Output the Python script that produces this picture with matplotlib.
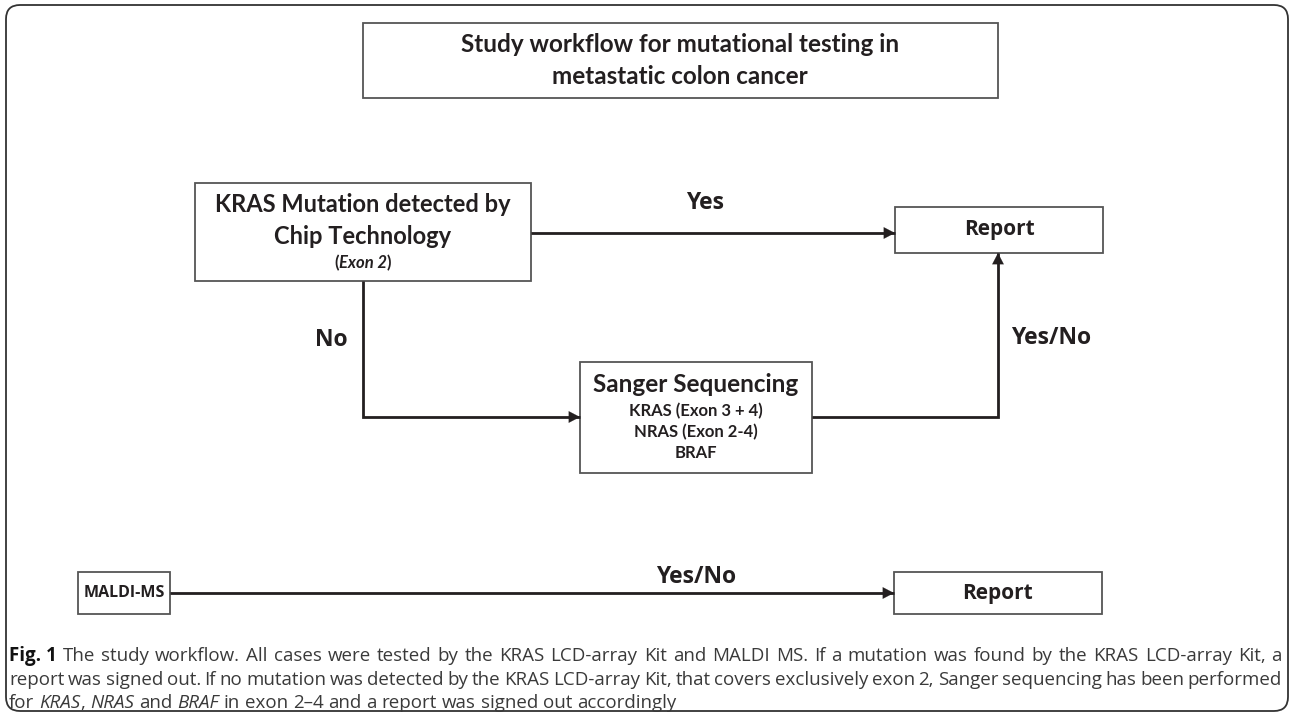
import re
import matplotlib
matplotlib.use("Agg")
import matplotlib.pyplot as plt
from matplotlib.patches import Rectangle, FancyBboxPatch, FancyArrowPatch

# ---- content ----
title_lines = ["Study workflow for mutational testing in", "metastatic colon cancer"]
kras_lines = ["KRAS Mutation detected by", "Chip Technology"]
kras_sub = ["(", "Exon 2", ")"]
sanger_title = "Sanger Sequencing"
sanger_lines = ["KRAS (Exon 3 + 4)", "NRAS (Exon 2-4)", "BRAF"]
report_label = "Report"
maldi_label = "MALDI-MS"
edge_labels = ["Yes", "No", "Yes/No", "Yes/No"]
caption_lines = [
    "**Fig. 1** The study workflow. All cases were tested by the KRAS LCD-array Kit and MALDI MS. If a mutation was found by the KRAS LCD-array Kit, a",
    "report was signed out. If no mutation was detected by the KRAS LCD-array Kit, that covers exclusively exon 2, Sanger sequencing has been performed",
    "for *KRAS*, *NRAS* and *BRAF* in exon 2\u20134 and a report was signed out accordingly",
]

W, H = 1290, 713
fig = plt.figure(figsize=(W / 100, H / 100), dpi=100)
ax = fig.add_axes([0, 0, 1, 1])
ax.set_xlim(0, W)
ax.set_ylim(H, 0)
ax.axis("off")
r = fig.canvas.get_renderer()

BOX_EC = "#555555"
LINE_C = "#231f20"
TXT = "#231f20"
BOXF = "Lato"
LABF = "Open Sans"


def box(x0, y0, x1, y1):
    ax.add_patch(Rectangle((x0, y0), x1 - x0, y1 - y0, fill=False, ec=BOX_EC, lw=1.3))


def arrow(pts):
    xs = [p[0] for p in pts]
    ys = [p[1] for p in pts]
    ax.plot(xs, ys, color=LINE_C, lw=2.0, solid_capstyle="butt", solid_joinstyle="miter")
    a = FancyArrowPatch(pts[-2], pts[-1], arrowstyle="-|>,head_length=5,head_width=2.6",
                        color=LINE_C, lw=0.1, shrinkA=0, shrinkB=0, mutation_scale=1.6)
    ax.add_patch(a)


# outer frame
ax.add_patch(FancyBboxPatch((14, 13), 1266, 690, boxstyle="round,pad=8,rounding_size=14",
                            fill=False, ec="#333333", lw=1.3))

# title box
box(363, 23, 998, 98)
ax.text(680, 45, title_lines[0], ha="center", va="center", fontsize=17.5, fontweight="bold",
        family=BOXF, color=TXT)
ax.text(680, 77, title_lines[1], ha="center", va="center", fontsize=17.5, fontweight="bold",
        family=BOXF, color=TXT)

# KRAS box
box(195, 183, 531, 281)
ax.text(363, 205, kras_lines[0], ha="center", va="center", fontsize=17, fontweight="bold",
        family=BOXF, color=TXT)
ax.text(363, 236, kras_lines[1], ha="center", va="center", fontsize=17, fontweight="bold",
        family=BOXF, color=TXT)
segs = []
for i, s in enumerate(kras_sub):
    t = ax.text(0, 263, s, ha="left", va="center", fontsize=12, fontweight="bold",
                style="italic" if i == 1 else "normal", family=BOXF, color=TXT)
    segs.append(t)
ws = [t.get_window_extent(r).width for t in segs]
x = 363 - sum(ws) / 2
for t, w in zip(segs, ws):
    t.set_x(x)
    x += w

# Report 1
box(895, 207, 1103, 253)
ax.text(999, 230, report_label, ha="center", va="center", fontsize=15, fontweight="bold",
        family=LABF, color=TXT)

# Sanger box
box(580, 362, 812, 473)
ax.text(696, 385, sanger_title, ha="center", va="center", fontsize=17.5, fontweight="bold",
        family=BOXF, color=TXT)
for i, s in enumerate(sanger_lines):
    ax.text(696, 411 + i * 21, s, ha="center", va="center", fontsize=12, fontweight="bold",
            family=BOXF, color=TXT)

# MALDI box and Report 2
box(78, 572, 170, 614)
ax.text(124, 593, maldi_label, ha="center", va="center", fontsize=11.5, fontweight="bold",
        family=LABF, color=TXT)
box(894, 572, 1102, 614)
ax.text(998, 593, report_label, ha="center", va="center", fontsize=15, fontweight="bold",
        family=LABF, color=TXT)

# connectors
arrow([(531, 233), (895, 233)])
arrow([(363, 281), (363, 417), (580, 417)])
arrow([(812, 417), (998, 417), (998, 253)])
arrow([(170, 593), (894, 593)])

lab_kw = dict(ha="center", va="center", fontsize=16.5, fontweight="bold", family=LABF, color=TXT)
ax.text(705, 203, edge_labels[0], **lab_kw)
ax.text(331, 340, edge_labels[1], **lab_kw)
ax.text(1051, 338, edge_labels[2], **lab_kw)
ax.text(696, 577, edge_labels[3], **lab_kw)

# caption (justified)
cap_y = [656, 680, 703]
x_left, x_right = 9, 1282


def parse_token(tok):
    parts = re.split(r"(\*\*[^*]+\*\*|\*[^*]+\*)", tok)
    out = []
    for p in parts:
        if not p:
            continue
        if p.startswith("**"):
            out.append((p[2:-2], "bold"))
        elif p.startswith("*"):
            out.append((p[1:-1], "italic"))
        else:
            out.append((p, "normal"))
    return out


def seg_kw(st, fs):
    kw = dict(fontsize=fs, family=LABF, va="baseline", ha="left")
    if st == "bold":
        kw.update(fontweight="bold", color="#111111")
    elif st == "italic":
        kw.update(style="italic", color="#3a3a3a")
    else:
        kw.update(color="#3a3a3a")
    return kw


def natural_width(line, fs):
    tot = 0
    for txt, st in parse_token(line.replace("**Fig. 1**", "**Fig.\u00a01**")):
        t = ax.text(0, 0, txt.replace("\u00a0", " "), **seg_kw(st, fs))
        tot += t.get_window_extent(r).width
        t.remove()
    return tot


fs0 = 10
nw = max(natural_width(caption_lines[0], fs0), natural_width(caption_lines[1], fs0))
CAP_FS = fs0 * (x_right - x_left) / nw * 1.02

tA = ax.text(0, 0, "a a", fontsize=CAP_FS, family=LABF)
tB = ax.text(0, 0, "aa", fontsize=CAP_FS, family=LABF)
space_w = tA.get_window_extent(r).width - tB.get_window_extent(r).width
tA.remove()
tB.remove()

for li, line in enumerate(caption_lines):
    line2 = line.replace("**Fig. 1**", "**Fig.\u00a01**")
    tokens = line2.split(" ")
    drawn = []
    for tok in tokens:
        segs = []
        for txt, st in parse_token(tok):
            t = ax.text(0, cap_y[li] + 5, txt.replace("\u00a0", " "), **seg_kw(st, CAP_FS))
            segs.append((t, t.get_window_extent(r).width))
        drawn.append(segs)
    tok_w = [sum(w for _, w in segs) for segs in drawn]
    if li < len(caption_lines) - 1:
        gap = (x_right - x_left - sum(tok_w)) / (len(drawn) - 1)
    else:
        gap = space_w
    x = x_left
    for segs, tw in zip(drawn, tok_w):
        xx = x
        for t, w in segs:
            t.set_x(xx)
            xx += w
        x += tw + gap

fig.savefig("out.png", dpi=100)
